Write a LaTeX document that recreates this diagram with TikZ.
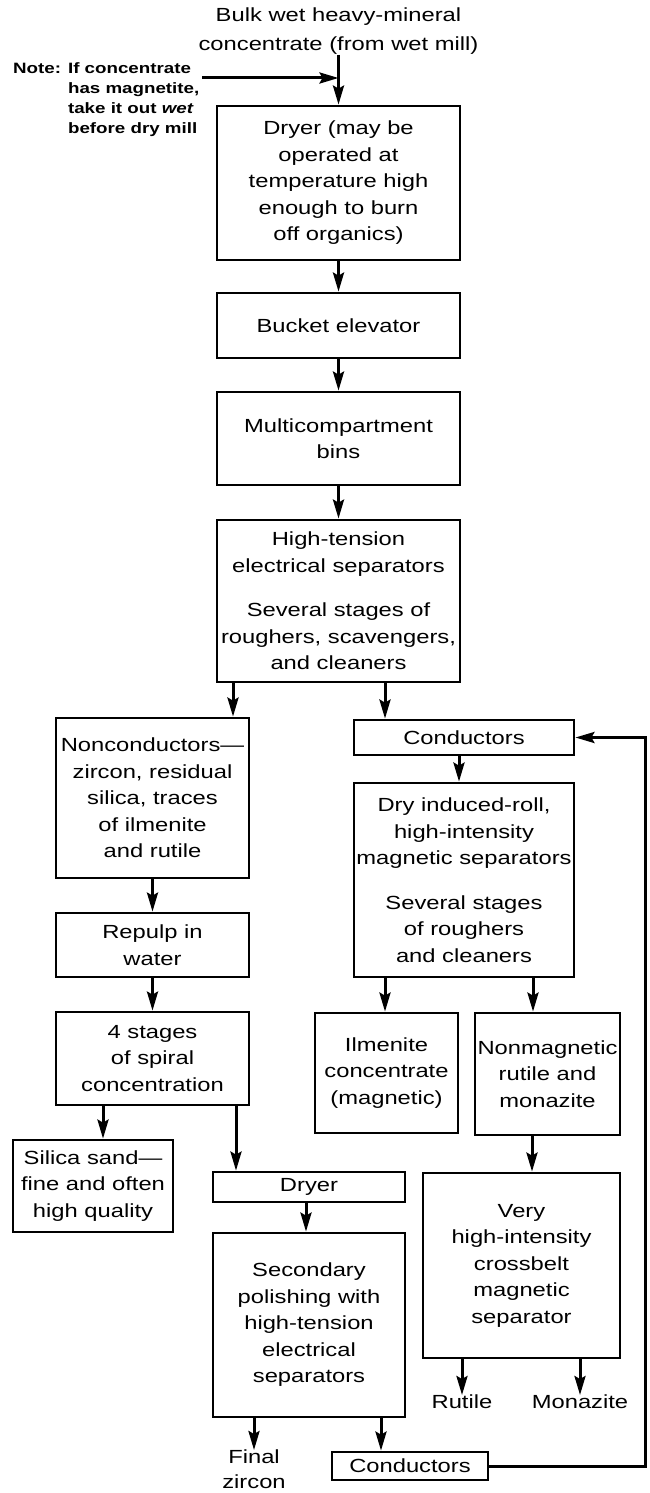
\documentclass[tikz,border=0pt]{standalone}
\usepackage{fontspec}
\setmainfont{Liberation Sans}[FakeStretch=1.25]
\usetikzlibrary{arrows.meta}

\tikzset{
  box/.style 2 args={draw, line width=2.8pt, inner sep=0pt, align=center,
    minimum width=#1pt, minimum height=#2pt},
  arr/.style={line width=3pt, -{Stealth[length=19pt,width=11pt,inset=3pt]}},
  lbl/.style={inner sep=0pt, align=center},
}

\begin{document}
\begin{tikzpicture}[x=1pt, y=-1pt, font=\fontsize{19}{26.5}\selectfont]
  \useasboundingbox (0,0) rectangle (650,1493);

  % Feed and note
  \node[lbl, anchor=south, font=\fontsize{19}{29}\selectfont] (feed) at (338.5,55)
    {Bulk wet heavy-mineral\\concentrate (from wet mill)};
  \node[anchor=north west, inner sep=0pt, font=\fontsize{15}{20}\selectfont\bfseries] (note) at (13,59)
    {\begin{tabular}{@{}l@{ }l@{}}Note: & If concentrate\\ & has magnetite,\\ & take it out \textit{wet}\\ & before dry mill\end{tabular}};

  % Main column
  \node[box={243}{154}] (dry1) at (338.5,183)
    {Dryer (may be\\operated at\\temperature high\\enough to burn\\off organics)};
  \node[box={243}{65}] (bucket) at (338.5,325.5) {Bucket elevator};
  \node[box={243}{93}] (bins) at (338.5,438.5) {Multicompartment\\bins};
  \node[box={243}{162}] (hts) at (338.5,601)
    {High-tension\\electrical separators\\[18pt]Several stages of\\roughers, scavengers,\\and cleaners};

  % Nonconductor branch
  \node[box={193}{160}] (noncond) at (152.5,798)
    {Nonconductors---\\zircon, residual\\silica, traces\\of ilmenite\\and rutile};
  \node[box={193}{64}] (repulp) at (152.5,945) {Repulp in\\water};
  \node[box={193}{93}] (spiral) at (152.5,1058.5) {4 stages\\of spiral\\concentration};
  \node[box={160}{92}] (silica) at (93,1186) {Silica sand---\\fine and often\\high quality};
  \node[box={192}{30}] (dry2) at (309,1187) {Dryer};
  \node[box={192}{184}] (polish) at (309,1325)
    {Secondary\\polishing with\\high-tension\\electrical\\separators};
  \node[lbl, anchor=north, font=\fontsize{19}{25}\selectfont] (zircon) at (254,1450) {Final\\zircon};
  \node[box={156}{28}] (cond2) at (410,1466) {Conductors};

  % Conductor branch
  \node[box={220}{35}] (cond1) at (464,737.5) {Conductors};
  \node[box={220}{194}] (magsep) at (464,880)
    {Dry induced-roll,\\high-intensity\\magnetic separators\\[18pt]Several stages\\of roughers\\and cleaners};
  \node[box={143}{120}] (ilm) at (386.5,1073) {Ilmenite\\concentrate\\(magnetic)};
  \node[box={145}{122}] (nonmag) at (547.5,1074) {Nonmagnetic\\rutile and\\monazite};
  \node[box={197}{185}] (crossbelt) at (521.5,1265.5)
    {Very\\high-intensity\\crossbelt\\magnetic\\separator};
  \node[lbl, anchor=north] (rutile) at (462,1395) {Rutile};
  \node[lbl, anchor=north] (monazite) at (580,1395) {Monazite};

  % Flow
  \coordinate (join) at (338.5,78);
  \coordinate (notetip) at (202,78);
  \draw[line width=3pt] (feed.south) -- (join);
  \draw[arr] (join) -- (dry1.north);
  \draw[arr] (notetip) -- (join);
  \draw[arr] (dry1.south) -- (bucket.north);
  \draw[arr] (bucket.south) -- (bins.north);
  \draw[arr] (bins.south) -- (hts.north);
  \draw[arr] (hts.south -| 233,0) -- (noncond.north -| 233,0);
  \draw[arr] (hts.south -| 385,0) -- (cond1.north -| 385,0);
  \draw[arr] (noncond.south) -- (repulp.north);
  \draw[arr] (repulp.south) -- (spiral.north);
  \draw[arr] (spiral.south -| 103,0) -- (silica.north -| 103,0);
  \draw[arr] (spiral.south -| 236,0) -- (dry2.north -| 236,0);
  \draw[arr] (dry2.south -| 306,0) -- (polish.north -| 306,0);
  \draw[arr] (polish.south -| zircon) -- (zircon.north);
  \draw[arr] (polish.south -| 381,0) -- (cond2.north -| 381,0);
  \draw[arr] (cond1.south -| 459,0) -- (magsep.north -| 459,0);
  \draw[arr] (magsep.south -| 385,0) -- (ilm.north -| 385,0);
  \draw[arr] (magsep.south -| 533,0) -- (nonmag.north -| 533,0);
  \draw[arr] (nonmag.south -| 532,0) -- (crossbelt.north -| 532,0);
  \draw[arr] (crossbelt.south -| rutile) -- (rutile.north);
  \draw[arr] (crossbelt.south -| monazite) -- (monazite.north);

  % Recycle of conductors
  \coordinate (loop) at (645,0);
  \draw[arr] (cond2.east) -- (cond2.east -| loop) -- (cond1.east -| loop) -- (cond1.east);
\end{tikzpicture}
\end{document}
